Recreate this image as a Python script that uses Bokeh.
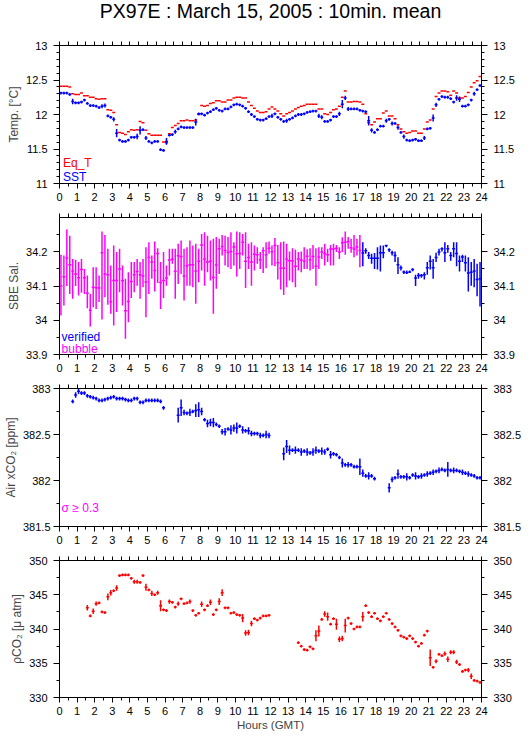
import numpy as np
from bokeh.plotting import figure
from bokeh.layouts import column
from bokeh.models import (Range1d, LinearAxis, SingleIntervalTicker, FixedTicker,
                          PrintfTickFormatter, Label, ColumnDataSource)
from bokeh.embed import file_html
from bokeh.resources import INLINE

N = None
FONT = "Liberation Sans"
RED, BLUE, MAG = "#ff0000", "#0000ff", "#ff00ff"
TITLE = "PX97E : March 15, 2005 : 10min. mean"

# ---------------- data (10-minute means, slot i = i*10 min) ----------------
eq_t = [12.41,12.41,12.41,12.40,12.30,12.29,12.29,12.31,12.27,12.27,
        12.25,12.25,12.23,12.22,12.23,12.23,12.07,12.06,12.03,11.85,
        11.74,11.73,11.71,11.75,11.78,11.77,11.78,11.90,11.88,11.77,
        11.72,11.70,11.70,11.70,11.70,11.60,11.59,11.72,11.81,11.84,
        11.87,11.91,11.91,11.92,11.91,11.91,11.92,12.00,12.13,12.12,
        12.13,12.16,12.17,12.20,12.20,12.18,12.18,12.21,12.21,12.24,
        12.25,12.25,12.24,12.24,12.18,12.13,12.09,12.05,12.03,12.03,
        12.04,12.08,
        12.11,12.08,12.05,12.01,11.98,12.01,12.03,12.05,12.08,12.10,
        12.12,12.13,12.15,12.15,12.15,12.15,12.08,12.08,12.01,12.00,
        12.03,12.07,12.08,12.12,12.25,12.34,12.18,12.18,12.19,12.19,
        12.18,12.15,12.01,11.88,11.85,11.89,11.94,11.94,12.02,12.05,
        11.98,11.98,11.94,11.85,11.79,11.75,11.73,11.74,11.76,11.76,
        11.73,11.73,11.79,11.89,11.92,12.08,12.26,12.31,12.34,12.34,
        12.33,12.28,12.34,12.31,12.24,12.24,12.26,12.32,12.40,12.46,
        12.49,12.55]

sst = [12.31,12.31,12.31,12.29,12.19,12.17,12.17,12.18,12.21,12.16,
       12.13,12.13,12.12,12.10,12.12,12.13,11.98,11.96,11.93,11.73,
       11.63,11.61,11.61,11.63,11.67,11.67,11.68,11.77,11.78,11.66,
       11.61,11.59,11.61,11.61,11.49,11.48,11.61,11.70,11.71,11.75,
       11.79,11.82,11.81,11.81,11.81,11.81,11.89,12.01,12.01,11.99,
       12.02,12.04,12.07,12.09,12.06,12.05,12.08,12.08,12.11,12.14,
       12.15,12.14,12.12,12.09,12.04,12.00,11.97,11.93,11.92,11.92,
       11.94,11.97,
       11.98,12.01,11.96,11.93,11.90,11.91,11.93,11.95,11.98,12.00,
       12.00,12.01,12.03,12.04,12.05,12.05,11.98,11.96,11.90,11.90,
       11.92,11.97,11.97,12.01,12.15,12.24,12.08,12.08,12.08,12.08,
       12.06,12.05,12.04,11.91,11.77,11.74,11.78,11.83,11.83,11.91,
       11.93,11.87,11.87,11.81,11.74,11.68,11.63,11.62,11.63,11.64,
       11.62,11.62,11.66,11.79,11.80,11.95,12.14,12.22,12.26,12.25,
       12.25,12.23,12.18,12.24,12.22,12.12,12.12,12.14,12.21,12.30,
       12.36,12.42]

sst_sd = [0.02,0.02,0.02,0.02,0.04,0.02,0.02,0.02,0.02,0.02,
          0.02,0.02,0.02,0.02,0.03,0.03,0.02,0.02,0.03,0.06,
          0.02,0.02,0.02,0.02,0.02,0.02,0.04,0.06,0.02,0.03,
          0.02,0.02,0.02,0.02,0.02,0.02,0.05,0.02,0.02,0.03,
          0.02,0.02,0.02,0.02,0.02,0.02,0.05,0.02,0.02,0.02,
          0.02,0.02,0.02,0.02,0.02,0.02,0.02,0.02,0.02,0.02,
          0.02,0.02,0.02,0.02,0.02,0.02,0.02,0.02,0.02,0.02,
          0.02,0.02,
          0.03,0.02,0.02,0.02,0.02,0.03,0.02,0.02,0.02,0.02,
          0.02,0.02,0.02,0.02,0.02,0.02,0.03,0.03,0.02,0.02,
          0.02,0.02,0.02,0.03,0.06,0.03,0.03,0.02,0.02,0.02,
          0.02,0.02,0.02,0.07,0.03,0.02,0.02,0.02,0.02,0.03,
          0.02,0.03,0.02,0.03,0.02,0.03,0.02,0.02,0.02,0.02,
          0.02,0.02,0.03,0.02,0.02,0.05,0.03,0.02,0.02,0.02,
          0.02,0.02,0.02,0.04,0.04,0.02,0.02,0.02,0.02,0.03,
          0.02,0.02]

sal = [34.100,34.127,34.182,34.162,34.144,34.135,34.124,34.148,34.124,34.079,
       34.029,34.096,34.095,34.094,34.197,34.135,34.133,34.054,34.116,34.116,
       34.150,34.115,34.028,34.055,34.113,34.133,34.142,34.133,34.129,34.112,
       34.183,34.170,34.145,34.195,34.110,34.116,34.123,34.176,34.178,34.143,
       34.188,34.186,34.129,34.159,34.162,34.162,34.144,34.172,34.220,34.179,
       34.170,34.172,34.125,34.161,34.209,34.215,34.204,34.198,34.201,34.214,
       34.194,34.195,34.228,34.172,34.183,34.170,34.193,34.191,34.177,34.203,
       34.191,34.210,
       34.200,34.218,34.168,34.152,34.152,34.179,34.174,34.173,34.158,34.179,
       34.176,34.172,34.187,34.177,34.186,34.158,34.185,34.199,34.195,34.191,
       34.208,34.208,34.210,34.199,34.226,34.228,34.230,34.212,34.208,34.214,
       34.204,34.196,34.203,34.189,34.181,34.181,34.181,34.197,34.197,34.218,
       34.206,34.197,34.189,34.162,34.153,34.141,34.139,34.141,34.148,34.123,
       34.131,34.131,34.133,34.153,34.172,34.153,34.183,34.199,34.209,34.197,
       34.209,34.189,34.209,34.195,34.172,34.185,34.168,34.138,34.140,34.144,
       34.119,34.121]

sal_min = [34.014,34.043,34.100,34.077,34.063,34.100,34.072,34.080,34.077,34.035,
           33.982,34.038,34.033,34.053,34.002,34.067,34.045,34.019,33.985,34.024,
           34.082,34.043,33.946,33.994,34.065,34.082,34.101,34.063,34.096,34.009,
           34.077,34.121,34.084,34.109,34.033,34.065,34.101,34.131,34.165,34.063,
           34.106,34.135,34.058,34.101,34.101,34.096,34.048,34.111,34.145,34.101,
           34.140,34.116,34.019,34.092,34.135,34.189,34.160,34.155,34.150,34.160,
           34.128,34.150,34.189,34.094,34.150,34.101,34.145,34.165,34.150,34.138,
           34.152,34.194,
           34.160,34.158,34.119,34.090,34.074,34.096,34.116,34.111,34.096,34.145,
           34.140,34.150,34.150,34.145,34.150,34.101,34.150,34.179,34.160,34.170,
           34.160,34.160,34.199,34.179,34.199,34.191,34.209,34.197,34.184,34.189,
           34.155,34.158,34.194,34.179,34.165,34.150,34.148,34.142,34.181,34.213,
           34.199,34.189,34.170,34.135,34.145,34.135,34.135,34.138,34.143,34.100,
           34.121,34.124,34.119,34.133,34.148,34.121,34.170,34.189,34.201,34.170,
           34.197,34.174,34.184,34.158,34.142,34.170,34.142,34.084,34.101,34.096,
           34.070,34.040]

sal_max = [34.191,34.189,34.265,34.247,34.179,34.177,34.170,34.179,34.150,34.131,
           34.077,34.155,34.155,34.131,34.259,34.249,34.209,34.160,34.218,34.199,
           34.209,34.160,34.121,34.140,34.170,34.170,34.179,34.170,34.179,34.213,
           34.228,34.189,34.230,34.210,34.170,34.199,34.160,34.209,34.209,34.209,
           34.223,34.233,34.209,34.213,34.233,34.218,34.223,34.209,34.252,34.257,
           34.247,34.233,34.238,34.243,34.238,34.249,34.247,34.243,34.257,34.228,
           34.259,34.257,34.252,34.257,34.223,34.228,34.218,34.213,34.199,34.213,
           34.228,34.230,
           34.218,34.240,34.220,34.228,34.230,34.223,34.201,34.210,34.206,34.199,
           34.201,34.213,34.207,34.210,34.220,34.210,34.213,34.213,34.223,34.209,
           34.220,34.223,34.220,34.213,34.242,34.259,34.243,34.238,34.249,34.238,
           34.249,34.228,34.210,34.199,34.194,34.196,34.213,34.218,34.218,34.220,
           34.210,34.203,34.201,34.184,34.160,34.145,34.145,34.145,34.152,34.133,
           34.138,34.135,34.140,34.170,34.189,34.179,34.197,34.209,34.213,34.228,
           34.220,34.199,34.228,34.228,34.189,34.191,34.189,34.184,34.170,34.179,
           34.165,34.170]

# salinity flag: first 103 slots "bubble", rest "verified"
sal_flag = ["bubble"] * 103 + ["verified"] * 41

air_xco2 = [N, N, N, N, 382.86,382.93,382.97,382.95,382.95,382.92,
            382.91,382.90,382.89,382.87,382.87,382.88,382.89,382.90,382.91,382.89,
            382.89,382.89,382.88,382.87,382.87,382.89,382.89,382.85,382.85,382.87,
            382.87,382.87,382.87,382.87,382.86,382.79, N, N, N, N,
            382.71,382.79,382.74,382.73,382.74,382.75,382.76,382.77,382.75,382.66,
            382.62,382.63,382.63,382.61,382.59,382.53,382.53,382.56,382.55,382.57,
            382.57,382.59,382.55,382.54,382.54,382.51,382.51,382.51,382.49,382.49,
            382.50,382.49, N, N, N, N, 382.29,382.37,382.33,382.33,
            382.33,382.33,382.31,382.32,382.31,382.30,382.31,382.33,382.32,382.32,
            382.31,382.34,382.28,382.29,382.28,382.25,382.19,382.17,382.17,382.17,
            382.15,382.15,382.15,382.08,382.05,382.05,382.05,382.02, N, N,
            N, N, 381.92,382.01,382.03,382.07,382.04,382.04,382.04,382.03,
            382.06,382.05,382.04,382.05,382.06,382.07,382.08,382.09,382.10,382.11,
            382.12,382.11,382.12,382.11,382.11,382.11,382.10,382.09,382.08,382.07,
            382.06,382.05,382.03,382.03]

air_sd = [N, N, N, N, 0.02,0.03,0.03,0.02,0.02,0.02,
          0.02,0.02,0.02,0.02,0.02,0.02,0.02,0.02,0.02,0.02,
          0.02,0.02,0.02,0.02,0.02,0.02,0.02,0.02,0.02,0.02,
          0.02,0.02,0.02,0.02,0.02,0.02, N, N, N, N,
          0.08,0.09,0.03,0.02,0.04,0.02,0.07,0.08,0.04,0.02,
          0.04,0.04,0.05,0.02,0.02,0.03,0.04,0.02,0.05,0.04,
          0.06,0.02,0.04,0.02,0.04,0.03,0.02,0.02,0.03,0.02,
          0.04,0.03, N, N, N, N, 0.07,0.07,0.05,0.02,
          0.04,0.02,0.04,0.02,0.04,0.02,0.04,0.04,0.02,0.04,
          0.03,0.02,0.04,0.02,0.02,0.02,0.05,0.02,0.03,0.02,
          0.02,0.02,0.09,0.04,0.02,0.04,0.02,0.02, N, N,
          N, N, 0.05,0.03,0.02,0.05,0.02,0.02,0.04,0.02,
          0.02,0.04,0.02,0.03,0.02,0.03,0.02,0.03,0.02,0.03,
          0.02,0.02,0.08,0.02,0.03,0.02,0.02,0.03,0.02,0.03,
          0.02,0.02,0.02,0.02]

pco2 = [N, N, N, N, N, N, N, N, N, 343.1,
        341.9,342.6,343.7,343.8,342.5,342.4,344.7,345.3,345.6,346.0,
        347.8,347.9,347.9,347.9,347.4,346.9,346.9,346.8,347.8,346.1,
        345.7,345.2,345.0,345.3,343.4,342.8,342.7,344.0,343.9,343.2,
        343.7,344.4,343.7,343.8,344.0,342.7,342.0,342.3,343.6,342.8,
        343.4,343.9,342.1,342.8,344.0,345.3,343.1,343.1,342.3,342.4,
        342.1,342.0,341.6,339.4,339.5,340.8,341.5,341.3,341.6,341.9,
        341.9,342.0, N, N, N, N, N, N, N, N,
        N, 338.0,337.5,337.0,336.9,337.4,337.1,339.0,339.7,341.4,
        342.2,341.8,340.7,341.5,340.7,338.5,338.6,340.5,341.6,340.8,
        340.0,340.3,340.3,341.8,343.4,342.4,341.8,342.3,341.5,341.2,
        341.8,342.3,341.4,340.8,340.3,339.8,339.0,338.8,338.6,339.0,
        338.6,338.1,337.5,337.9,339.1,339.7,335.8,334.4,335.3,336.3,
        336.1,336.4,335.6,336.6,336.6,335.2,334.8,333.8,334.0,334.0,
        333.1,332.5,332.4,332.2]

pco2_sd = [N, N, N, N, N, N, N, N, N, 0.4,
           0.2,0.4,0.3,0.2,0.2,0.2,0.5,0.4,0.2,0.4,
           0.2,0.2,0.2,0.2,0.2,0.3,0.3,0.2,0.2,0.5,
           0.2,0.4,0.2,0.3,0.8,0.2,0.2,0.3,0.2,0.2,
           0.3,0.2,0.2,0.2,0.3,0.2,0.2,0.2,0.4,0.2,
           0.2,0.4,0.2,0.2,0.5,0.5,0.2,0.2,0.2,0.2,
           0.2,0.2,0.6,0.4,0.4,0.4,0.2,0.2,0.2,0.2,
           0.2,0.2, N, N, N, N, N, N, N, N,
           N, 0.2,0.2,0.2,0.2,0.2,0.2,0.8,0.8,0.2,
           0.4,0.6,0.2,0.2,0.8,0.4,0.4,1.0,0.2,0.2,
           0.2,0.2,0.2,0.7,0.2,0.2,0.2,0.2,0.2,0.2,
           0.2,0.2,0.2,0.2,0.2,0.2,0.2,0.2,0.2,0.2,
           0.2,0.2,0.2,0.2,0.2,0.2,1.2,0.2,0.3,0.2,
           0.2,0.3,0.4,0.3,0.3,0.3,0.2,0.2,0.2,0.3,
           0.4,0.2,0.2,0.2]

# ---------------- time axis ----------------
slot = np.arange(144)
t_start = slot / 6.0
t_end = t_start + 1.0 / 6.0
t_mid = t_start + 1.0 / 12.0
half_hours = [h / 2.0 for h in range(49)]


def arr(a):
    return np.array([np.nan if v is None else v for v in a], dtype=float)


def style_axis(ax, tick_out, size="11px"):
    ax.axis_line_color = "black"
    ax.major_tick_line_color = "black"
    ax.minor_tick_line_color = "black"
    ax.major_tick_in = 0
    ax.minor_tick_in = 0
    ax.major_tick_out = tick_out
    ax.minor_tick_out = 3
    ax.major_label_text_font = FONT
    ax.major_label_text_color = "black"
    ax.major_label_text_font_size = size
    ax.axis_label_text_font = FONT
    ax.axis_label_text_font_size = "12px"
    ax.axis_label_text_font_style = "normal"


def panel(y0, y1, major, nminor, ylabel, top, bottom, fh, xlabel=None, lstand=6):
    p = figure(frame_width=422, frame_height=fh, x_range=Range1d(0, 24),
               y_range=Range1d(y0, y1), output_backend="svg", toolbar_location=None,
               x_axis_location=None, y_axis_location=None,
               min_border_left=50, min_border_right=41,
               min_border_top=top, min_border_bottom=bottom,
               outline_line_color=None, background_fill_color="white",
               border_fill_color="white")
    p.grid.visible = False
    fmt = PrintfTickFormatter(format="%.6g")
    xt = SingleIntervalTicker(interval=1, num_minor_ticks=2)
    yt = SingleIntervalTicker(interval=major, num_minor_ticks=nminor)

    below = LinearAxis(ticker=xt, formatter=fmt)
    style_axis(below, 5)
    below.major_label_standoff = 4
    if xlabel:
        below.axis_label = xlabel
        below.axis_label_standoff = 1
        below.axis_label_text_font_size = "11.5px"
    # top axis: ticks only (no labels)
    above = LinearAxis(ticker=FixedTicker(ticks=[], minor_ticks=half_hours))
    style_axis(above, 4)
    above.minor_tick_out = 4
    above.major_label_standoff = 0
    left = LinearAxis(ticker=yt, formatter=fmt, axis_label=ylabel)
    style_axis(left, 6)
    left.major_label_standoff = lstand
    left.axis_label_standoff = 2
    right = LinearAxis(ticker=yt, formatter=fmt)
    style_axis(right, 6)
    right.major_label_standoff = 6
    p.add_layout(below, "below")
    p.add_layout(above, "above")
    p.add_layout(left, "left")
    p.add_layout(right, "right")
    return p


def crosses(p, y, lo, hi, color, hbar=True, vbar=True, lw=1.5):
    src = ColumnDataSource(dict(t0=t_start, t1=t_end, tm=t_mid, y=y, lo=lo, hi=hi, c=color))
    if hbar:
        p.segment(x0="t0", y0="y", x1="t1", y1="y", line_color="c", line_width=lw,
                  line_cap="butt", source=src)
    if vbar:
        p.segment(x0="tm", y0="lo", x1="tm", y1="hi", line_color="c", line_width=lw,
                  line_cap="butt", source=src)


def note(p, x, y, text, color):
    p.add_layout(Label(x=x, y=y, text=text, text_color=color, text_font=FONT,
                       text_font_size="12px", text_baseline="alphabetic"))


# ---------------- title strip (own small figure, same horizontal frame) ----------------
p0 = figure(frame_width=422, frame_height=24, x_range=Range1d(0, 24), y_range=Range1d(0, 1),
            output_backend="svg", toolbar_location=None, x_axis_location=None,
            y_axis_location=None, min_border_left=50, min_border_right=41,
            min_border_top=0, min_border_bottom=0, outline_line_color=None,
            background_fill_color="white", border_fill_color="white")
p0.grid.visible = False
p0.add_layout(Label(x=12, y=0.56, text=TITLE, text_align="center", text_baseline="middle",
                    text_font=FONT, text_font_size="19.5px", text_color="black"))

# ---------------- panel 1 : temperatures ----------------
p1 = panel(11, 13, 0.5, 5, "Temp. [°C]", 21, 24, 138)
eq = arr(eq_t)
crosses(p1, eq, eq, eq, [RED] * 144, vbar=False)
s = arr(sst)
sd = arr(sst_sd)
crosses(p1, s, s - sd, s + sd, [BLUE] * 144)
note(p1, 0.2, 11.294, "Eq_T", RED)
note(p1, 0.2, 11.091, "SST", BLUE)

# ---------------- panel 2 : salinity ----------------
p2 = panel(33.9, 34.3, 0.1, 2, "SBE Sal.", 10, 24, 137)
sal_colors = [MAG if f == "bubble" else BLUE for f in sal_flag]
crosses(p2, arr(sal), arr(sal_min), arr(sal_max), sal_colors)
note(p2, 0.12, 33.950, "verified", BLUE)
note(p2, 0.12, 33.915, "bubble", MAG)

# ---------------- panel 3 : air xCO2 ----------------
p3 = panel(381.5, 383, 0.5, 2, "Air xCO\u2082 [ppm]", 10, 24, 138, lstand=3)
a = arr(air_xco2)
asd = arr(air_sd)
crosses(p3, a, a - asd, a + asd, [BLUE] * 144)
note(p3, 0.12, 381.70, "\u03c3 \u2265 0.3", MAG)

# ---------------- panel 4 : pCO2 ----------------
p4 = panel(330, 350, 5, 2, "\u03c1CO\u2082 [\u03bc atm]", 10, 34, 137, xlabel="Hours (GMT)")
pc = arr(pco2)
psd = arr(pco2_sd)
crosses(p4, pc, pc - psd, pc + psd, [RED] * 144)

layout = column(p0, p1, p2, p3, p4, spacing=0)
open("out.html", "w").write(file_html(layout, INLINE))
